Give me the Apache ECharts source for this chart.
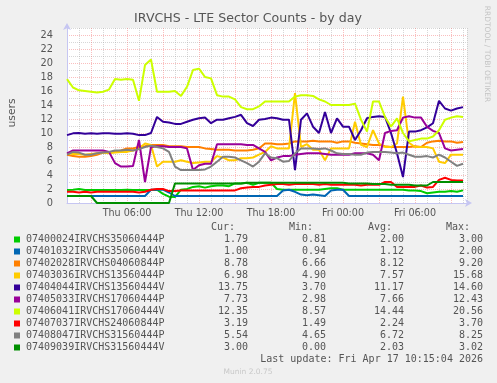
<!DOCTYPE html>
<html><head><meta charset="utf-8">
<script src="https://cdn.jsdelivr.net/npm/echarts@6/dist/echarts.min.js"></script>
<style>html,body{margin:0;padding:0;background:#f0f0f0}#c{width:497px;height:383px}</style>
</head><body><div id="c"></div>
<script>
// hours since Thu 01:00
const hours = [0,0.5,1,1.5,2,2.5,3,3.5,4,4.5,5,5.5,6,6.5,7,7.5,8,8.5,9,9.5,10,10.5,11,11.5,12,12.5,13,13.5,14,14.5,15,15.5,16,16.5,17,17.5,18,18.5,19,19.5,20,20.5,21,21.5,22,22.5,23,23.5,24,24.5,25,25.5,26,26.5,27,27.5,28,28.5,29,29.5,30,30.5,31,31.5,32,32.5,33];
const xLabelHours = [5, 11, 17, 23, 29];
const xLabelTexts = ['Thu 06:00', 'Thu 12:00', 'Thu 18:00', 'Fri 00:00', 'Fri 06:00'];

const s1_35060444P = [1.85,1.9,2.0,1.85,1.85,1.85,1.85,1.85,1.85,1.85,1.9,1.85,1.85,1.85,1.85,1.9,1.3,0.9,0.85,1.9,2.0,2.3,2.4,2.2,2.4,2.5,2.5,2.4,2.8,2.8,2.9,2.6,2.9,2.9,2.9,2.0,1.9,1.9,1.9,1.9,1.9,1.9,1.9,2.0,2.1,2.1,1.9,1.9,1.9,1.9,1.9,1.9,1.9,1.9,1.9,1.9,1.9,1.8,1.8,1.7,1.4,1.5,1.6,1.6,1.7,1.6,1.8];
const s2_35060444V = [1.0,1.0,1.0,1.0,1.0,1.0,1.0,1.0,1.0,1.0,1.0,1.0,1.0,1.0,1.9,1.9,1.9,1.5,1.0,1.0,1.0,1.0,1.0,1.0,1.0,1.0,1.0,1.0,1.0,1.0,1.0,1.0,1.0,1.0,1.0,1.0,1.8,1.9,1.6,1.2,1.1,1.2,1.1,1.0,1.8,1.9,1.9,1.0,1.0,1.0,1.0,1.0,1.0,1.0,1.0,1.0,1.0,1.0,1.0,1.0,1.0,1.0,1.0,1.0,1.0,1.0,1.0];
const s3_04060844P = [6.9,6.7,6.6,6.6,6.7,6.9,7.2,7.3,7.3,7.5,7.8,7.8,8.0,8.1,8.3,8.3,8.3,8.1,8.1,8.1,8.0,8.0,8.0,7.8,7.7,7.6,7.6,7.6,7.5,7.5,7.5,7.6,7.8,8.5,8.5,8.4,8.4,8.5,8.8,8.8,8.8,8.9,8.8,8.8,8.8,8.6,8.8,8.8,8.6,8.5,8.4,8.3,8.3,8.1,8.0,8.0,8.0,8.0,8.1,8.0,8.6,8.8,8.9,8.8,8.8,8.6,8.7];
const s4_13560444P = [7.1,7.0,7.0,6.9,7.0,7.1,7.2,7.1,7.2,7.3,7.3,7.5,7.8,8.5,8.3,5.2,5.9,5.9,5.9,6.1,5.9,5.7,5.8,5.9,5.9,6.7,6.5,6.1,6.1,6.4,6.4,6.5,6.9,7.3,8.1,7.8,7.8,7.8,15.7,8.0,8.4,7.6,7.6,6.1,7.8,7.8,7.8,7.8,11.6,8.3,8.0,10.4,8.5,8.0,8.0,8.5,15.2,8.6,8.0,8.0,8.0,7.8,5.9,5.7,6.9,6.9,6.9];
const s5_13560444V = [9.7,9.95,10.0,9.9,9.95,9.9,9.95,9.95,9.9,9.9,9.95,9.9,9.7,9.7,10.0,12.3,11.6,11.5,11.3,11.3,11.6,11.9,12.1,12.2,11.4,11.9,11.9,12.1,12.3,12.6,11.4,11.0,11.9,12.0,12.2,12.1,11.9,11.9,4.7,11.9,12.8,10.9,10.0,13.0,10.0,12.1,10.9,10.9,9.0,10.4,12.1,12.3,12.4,12.3,10.0,7.1,3.7,10.2,10.2,10.4,10.8,11.4,14.6,13.5,13.2,13.5,13.7];
const s6_17060444P = [7.1,7.5,7.5,7.5,7.5,7.5,7.5,7.3,5.7,5.2,5.2,5.3,9.0,3.0,8.0,8.1,8.1,8.0,8.0,8.0,7.8,4.7,5.4,5.6,5.6,8.4,8.4,8.4,8.4,8.4,8.3,8.3,7.8,7.3,6.1,6.5,6.7,6.7,6.9,7.0,7.1,7.1,7.1,7.0,6.9,6.9,6.9,6.9,7.1,7.1,7.1,6.9,6.1,10.0,10.3,10.4,12.2,12.4,12.2,12.2,10.9,10.3,10.0,7.8,7.5,7.6,7.7];
const s7_17060444V = [17.7,16.5,16.1,16.0,15.9,15.8,15.9,16.2,17.7,17.6,17.7,17.6,14.6,19.7,20.5,15.9,15.9,15.9,16.0,15.3,16.6,19.0,19.2,18.0,17.8,15.4,15.2,15.2,14.8,13.7,13.4,13.4,13.8,14.5,14.5,14.5,14.5,14.5,15.2,15.4,15.4,15.3,14.8,14.5,14.0,14.0,14.0,14.0,14.2,11.9,10.2,14.5,14.5,12.3,10.9,12.1,10.0,8.8,9.0,9.2,9.2,9.5,10.4,11.9,12.2,12.4,12.3];
const s8_24060844P = [1.6,1.6,1.5,1.6,1.5,1.6,1.6,1.6,1.6,1.6,1.6,1.6,1.5,1.6,1.9,2.0,2.0,1.7,1.7,1.8,1.8,1.8,1.8,1.8,1.8,1.8,1.8,1.8,1.8,2.1,2.2,2.3,2.3,2.5,2.6,2.7,2.7,2.6,2.7,2.7,2.7,2.7,2.6,2.7,2.6,2.6,2.6,2.6,2.6,2.5,2.6,2.6,2.6,3.0,3.0,2.3,2.3,2.3,2.3,2.5,2.2,2.3,3.3,3.6,3.3,3.2,3.2];
const s9_31560444P = [6.9,7.3,7.2,6.9,6.9,7.1,7.2,7.3,7.5,7.5,7.6,7.5,7.7,8.0,8.2,8.0,7.8,7.3,5.2,4.7,4.7,4.7,4.7,4.8,5.2,5.9,6.6,6.6,6.5,6.1,5.7,5.2,5.9,7.1,6.5,6.4,5.9,6.0,7.1,7.8,7.8,7.8,7.7,7.8,7.5,7.1,7.0,7.0,6.9,6.9,7.2,7.3,7.3,7.3,7.2,7.1,7.2,6.9,6.6,6.6,6.7,6.5,6.9,6.5,5.9,5.3,5.6];
const s10_31560444V = [1.0,1.0,1.0,1.0,1.0,0,0,0,0,0,0,0,0,0,0,0,0,0,2.8,2.8,2.8,2.8,2.8,2.8,2.8,2.8,2.8,2.8,2.8,2.8,2.9,2.9,2.9,2.9,2.9,2.9,2.9,2.9,2.9,2.9,2.9,2.9,2.9,2.9,2.9,2.9,2.9,2.8,2.8,2.8,2.8,2.7,2.7,2.7,2.6,2.6,2.6,2.6,2.5,2.5,2.5,3.0,3.0,3.0,3.0,3.0,3.0];

const seriesNames = ['07400024IRVCHS35060444P','07401032IRVCHS35060444V','07402028IRVCHS04060844P','07403036IRVCHS13560444P','07404044IRVCHS13560444V','07405033IRVCHS17060444P','07406041IRVCHS17060444V','07407037IRVCHS24060844P','07408047IRVCHS31560444P','07409039IRVCHS31560444V'];
const seriesColors = ['#00CC00','#0066B3','#FF8000','#FFCC00','#330099','#990099','#CCFF00','#FF0000','#808080','#008F00'];
const seriesValues = [s1_35060444P,s2_35060444V,s3_04060844P,s4_13560444P,s5_13560444V,s6_17060444P,s7_17060444V,s8_24060844P,s9_31560444P,s10_31560444V];
const curVals = ['1.79','1.00','8.78','6.98','13.75','7.73','12.35','3.19','5.54','3.00'];
const minVals = ['0.81','0.94','6.66','4.90','3.70','2.98','8.57','1.49','4.65','0.00'];
const avgVals = ['2.00','1.12','8.12','7.57','11.17','7.66','14.44','2.24','6.72','2.03'];
const maxVals = ['3.00','2.00','9.20','15.68','14.60','12.43','20.56','3.70','8.25','3.02'];

const MONO = '10px "DejaVu Sans Mono", monospace';
const TXT = '#555';
const graphics = [];
function txt(s, x, y, align, font, fill, rot) {
  graphics.push({type:'text', x:x, y:y, rotation: rot||0, silent:true,
    style:{text:s, fill:fill||TXT, font:font||MONO, align:align, verticalAlign:'middle'}});
}
txt('IRVCHS - LTE Sector Counts - by day', 248, 19, 'center', '12.6px "DejaVu Sans", sans-serif', '#555');
txt('users', 12, 113, 'center', '10.8px "DejaVu Sans", sans-serif', '#555', Math.PI/2);
txt('RRDTOOL / TOBI OETIKER', 487, 54, 'center', '7.5px "DejaVu Sans", sans-serif', '#c4c4c4', -Math.PI/2);
txt('Cur:', 235, 227, 'right');
txt('Min:', 313, 227, 'right');
txt('Avg:', 392, 227, 'right');
txt('Max:', 470, 227, 'right');
for (let i = 0; i < seriesNames.length; i++) {
  const y = 239.5 + 12 * i;
  graphics.push({type:'rect', silent:true, shape:{x:14, y:y-3, width:6, height:6}, style:{fill:seriesColors[i]}});
  txt(seriesNames[i], 26, y, 'left');
  txt(curVals[i], 248, y, 'right');
  txt(minVals[i], 326, y, 'right');
  txt(avgVals[i], 404, y, 'right');
  txt(maxVals[i], 483, y, 'right');
}
txt('Last update: Fri Apr 17 10:15:04 2026', 483, 359.5, 'right');
txt('Munin 2.0.75', 248, 372, 'center', '7.5px "DejaVu Sans", sans-serif', '#c8c8c8');

const GREY = 'rgba(160,160,160,0.42)';
const RED = 'rgba(245,110,110,0.45)';
const AXIS = '#c6c6f2';

const chart = echarts.init(document.getElementById('c'), null, {renderer:'canvas'});
chart.setOption({
  animation: false,
  backgroundColor: '#f0f0f0',
  grid: {left:67, right:30, top:28, bottom:180, show:true, backgroundColor:'#ffffff', borderWidth:0},
  xAxis: {
    type:'value', min:0, max:100/3, interval:1,
    axisLine:{show:true, onZero:true, lineStyle:{color:AXIS, width:1}, symbol:['none','arrow'], symbolSize:[6,7], symbolOffset:[0,5]},
    axisTick:{show:false},
    splitLine:{show:true, lineStyle:{color:[GREY,GREY,RED], type:[1,1], width:1}},
    axisLabel:{margin:5, color:'#555', fontSize:9.6, fontFamily:'DejaVu Sans',
      formatter: function(v){ const i = xLabelHours.indexOf(v); return i >= 0 ? xLabelTexts[i] : ''; }}
  },
  yAxis: {
    type:'value', min:0, max:25, interval:1,
    axisLine:{show:true, lineStyle:{color:AXIS, width:1}, symbol:['none','arrow'], symbolSize:[6,7], symbolOffset:[0,5]},
    axisTick:{show:false},
    splitLine:{show:true, lineStyle:{color:[RED,GREY], type:[1,1], width:1}},
    axisLabel:{margin:14, color:'#555', fontSize:9.8, fontFamily:'DejaVu Sans',
      formatter: function(v){ return (v % 2 === 0) ? String(v) : ''; }}
  },
  series: seriesValues.map(function(vals, i){
    return {type:'line', name:seriesNames[i], showSymbol:false, symbol:'none',
      data: hours.map(function(h, k){ return [h, vals[k]]; }),
      lineStyle:{color:seriesColors[i], width:2}, itemStyle:{color:seriesColors[i]}, z:2+i};
  }),
  graphic: graphics
});
</script></body></html>
